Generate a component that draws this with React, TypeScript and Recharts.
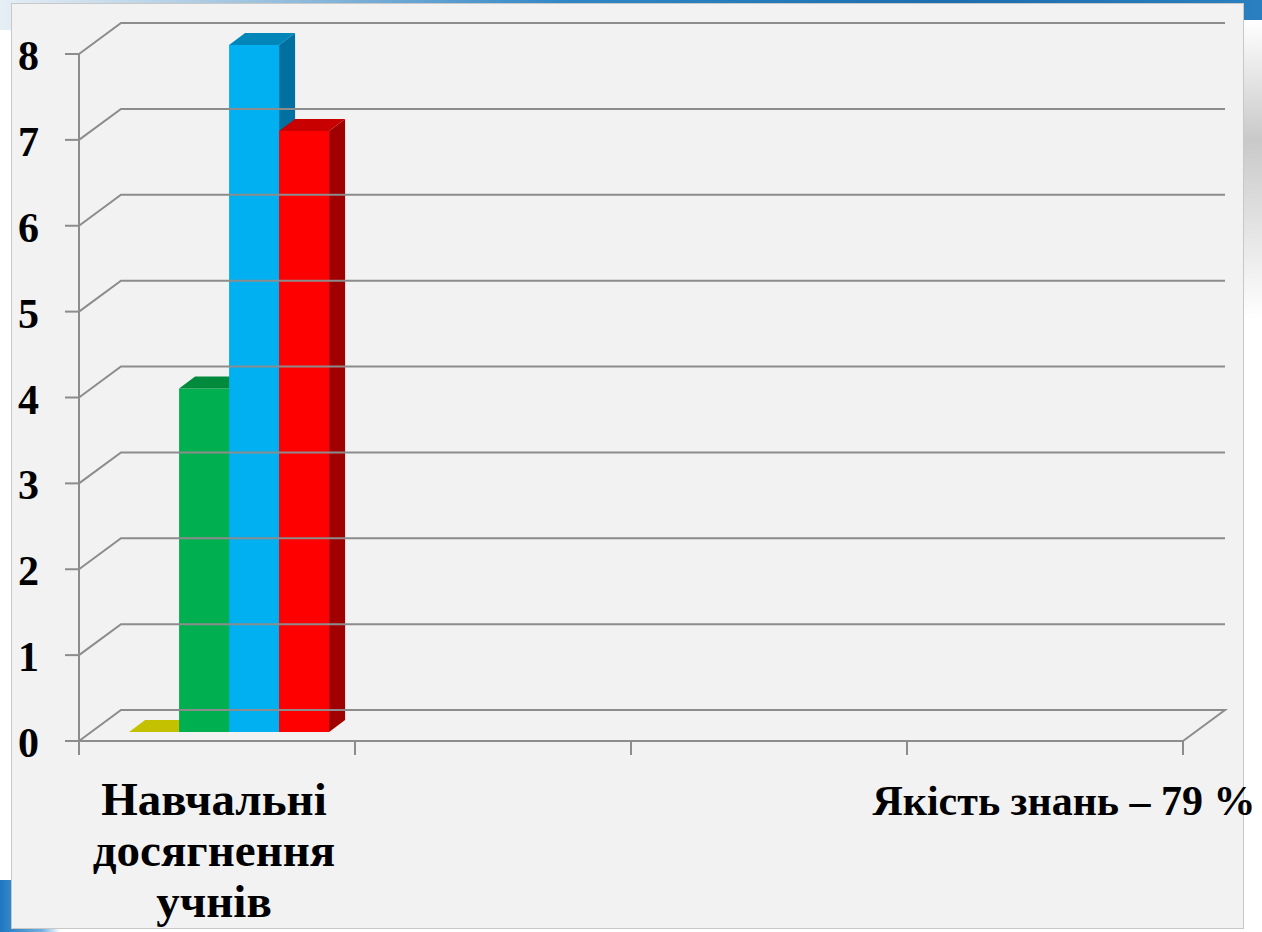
import React from 'react';
import { BarChart, Bar, XAxis, YAxis } from 'recharts';

// categories along the floor; "\n" marks a line break in the label
const categories = ['Навчальні\nдосягнення\nучнів', '', '', 'Якість знань – 79 %'];

// pupils by achievement level (only the first group has values)
const pochatkovyi = [0, null, null, null];
const serednii = [4, null, null, null];
const dostatnii = [8, null, null, null];
const vysokyi = [7, null, null, null];

const yTicks = [0, 1, 2, 3, 4, 5, 6, 7, 8];

const data = categories.map((name, i) => ({
  name,
  pochatkovyi: pochatkovyi[i],
  serednii: serednii[i],
  dostatnii: dostatnii[i],
  vysokyi: vysokyi[i],
}));

const W = 1262;
const H = 932;
const PLOT_LEFT = 79;
const PLOT_RIGHT = 1183;
const PLOT_TOP = 54;
const PLOT_BOTTOM = 741;
const WALL_DX = 42;
const WALL_DY = 31;
const GRID = '#8c8c8c';
const SERIF = '"Liberation Serif", "DejaVu Serif", serif';

// bars stand about a third of the way into the floor
const BAR_DX = 12;
const BAR_DY = 9;
const DEPTH_X = 16;
const DEPTH_Y = 12;

type Shade = { front: string; top: string; side: string };

const shades: Record<string, Shade> = {
  pochatkovyi: { front: '#c8c800', top: '#c4c200', side: '#9a9800' },
  serednii: { front: '#00b050', top: '#008a3c', side: '#007a35' },
  dostatnii: { front: '#00b0f0', top: '#0086b8', side: '#0070a0' },
  vysokyi: { front: '#ff0000', top: '#c80000', side: '#a00000' },
};

function box(key: string) {
  return (p: any) => {
    const v = p.payload ? p.payload[key] : null;
    if (v === null || v === undefined) return <g />;
    const c = shades[key];
    const x = p.x + BAR_DX;
    const y = p.y - BAR_DY;
    const w = p.width;
    const h = Math.max(0, p.height);
    return (
      <g>
        {h > 0 && <rect x={x} y={y} width={w} height={h} fill={c.front} />}
        {h > 0 && (
          <polygon
            points={`${x + w},${y} ${x + w + DEPTH_X},${y - DEPTH_Y} ${x + w + DEPTH_X},${y + h - DEPTH_Y} ${x + w},${y + h}`}
            fill={c.side}
          />
        )}
        <polygon
          points={`${x},${y} ${x + DEPTH_X},${y - DEPTH_Y} ${x + w + DEPTH_X},${y - DEPTH_Y} ${x + w},${y}`}
          fill={c.top}
        />
      </g>
    );
  };
}

function YTick(props: any) {
  const { y, payload } = props;
  const isFloor = payload.value === 0;
  return (
    <g>
      <line x1={65} y1={y} x2={PLOT_LEFT} y2={y} stroke={GRID} strokeWidth={2} />
      <polyline
        points={`${PLOT_LEFT},${y} ${PLOT_LEFT + WALL_DX},${y - WALL_DY} ${PLOT_RIGHT + WALL_DX},${y - WALL_DY}${
          isFloor ? ` ${PLOT_RIGHT},${y}` : ''
        }`}
        fill="none"
        stroke={GRID}
        strokeWidth={2}
      />
      <text
        x={39}
        y={y + 16}
        textAnchor="end"
        fontFamily={SERIF}
        fontWeight="bold"
        fontSize={42}
        fill="#000"
      >
        {payload.value}
      </text>
    </g>
  );
}

function XTick(props: any) {
  const { x, payload, index } = props;
  const band = (PLOT_RIGHT - PLOT_LEFT) / categories.length;
  const lines = String(payload.value).split('\n');
  const multi = lines.length > 1;
  return (
    <g>
      <line x1={x - band / 2} y1={PLOT_BOTTOM} x2={x - band / 2} y2={PLOT_BOTTOM + 14} stroke={GRID} strokeWidth={2} />
      {index === categories.length - 1 && (
        <line x1={x + band / 2} y1={PLOT_BOTTOM} x2={x + band / 2} y2={PLOT_BOTTOM + 14} stroke={GRID} strokeWidth={2} />
      )}
      {lines.map((t, i) =>
        t ? (
          <text
            key={i}
            x={multi ? x - 3 : x + 19}
            y={815 + i * 51}
            textAnchor="middle"
            fontFamily={SERIF}
            fontWeight="bold"
            fontSize={multi ? 47 : 42}
            fill="#000"
          >
            {t}
          </text>
        ) : null
      )}
    </g>
  );
}

export default function App() {
  return (
    <div style={{ position: 'absolute', left: 0, top: 0, width: W, height: H, background: '#fff', overflow: 'hidden' }}>
      {/* slide decoration behind the chart panel */}
      <div
        style={{
          position: 'absolute',
          left: 0,
          top: 0,
          width: W,
          height: 30,
          background: 'linear-gradient(90deg, #e6eef5 0%, #9fc3df 20%, #2f86c6 45%, #1c6fae 75%, #2a7fc0 100%)',
        }}
      />
      <div
        style={{
          position: 'absolute',
          right: 0,
          top: 20,
          width: 30,
          height: 300,
          background: 'linear-gradient(180deg, #ffffff 0%, #c9c9c9 40%, #ffffff 100%)',
        }}
      />
      <div
        style={{
          position: 'absolute',
          left: 0,
          top: 880,
          width: 60,
          height: 52,
          background: 'linear-gradient(90deg, #1f77c0 0%, #6fb0e0 70%, #ffffff 100%)',
        }}
      />
      <div
        style={{
          position: 'absolute',
          left: 12,
          top: 4,
          width: 1231,
          height: 924,
          background: '#f2f2f2',
          boxShadow: '0 0 0 1px #c8c8c8',
        }}
      />
      <div style={{ position: 'absolute', left: 0, top: 0 }}>
        <BarChart
          width={W}
          height={H}
          data={data}
          margin={{ top: PLOT_TOP, right: W - PLOT_RIGHT, bottom: 41, left: 0 }}
          barCategoryGap="13.8%"
          barGap={0}
          style={{ overflow: 'visible' }}
        >
          <YAxis
            domain={[0, 8]}
            ticks={yTicks}
            width={PLOT_LEFT}
            axisLine={{ stroke: GRID, strokeWidth: 2 }}
            tickLine={false}
            tick={<YTick />}
            interval={0}
          />
          <XAxis
            dataKey="name"
            height={H - PLOT_BOTTOM - 41}
            axisLine={{ stroke: GRID, strokeWidth: 2 }}
            tickLine={false}
            tick={<XTick />}
            interval={0}
          />
          <Bar dataKey="pochatkovyi" name="Початковий" fill="#c8c800" shape={box('pochatkovyi')} isAnimationActive={false} />
          <Bar dataKey="serednii" name="Середній" fill="#00b050" shape={box('serednii')} isAnimationActive={false} />
          <Bar dataKey="dostatnii" name="Достатній" fill="#00b0f0" shape={box('dostatnii')} isAnimationActive={false} />
          <Bar dataKey="vysokyi" name="Високий" fill="#ff0000" shape={box('vysokyi')} isAnimationActive={false} />
        </BarChart>
      </div>
    </div>
  );
}
